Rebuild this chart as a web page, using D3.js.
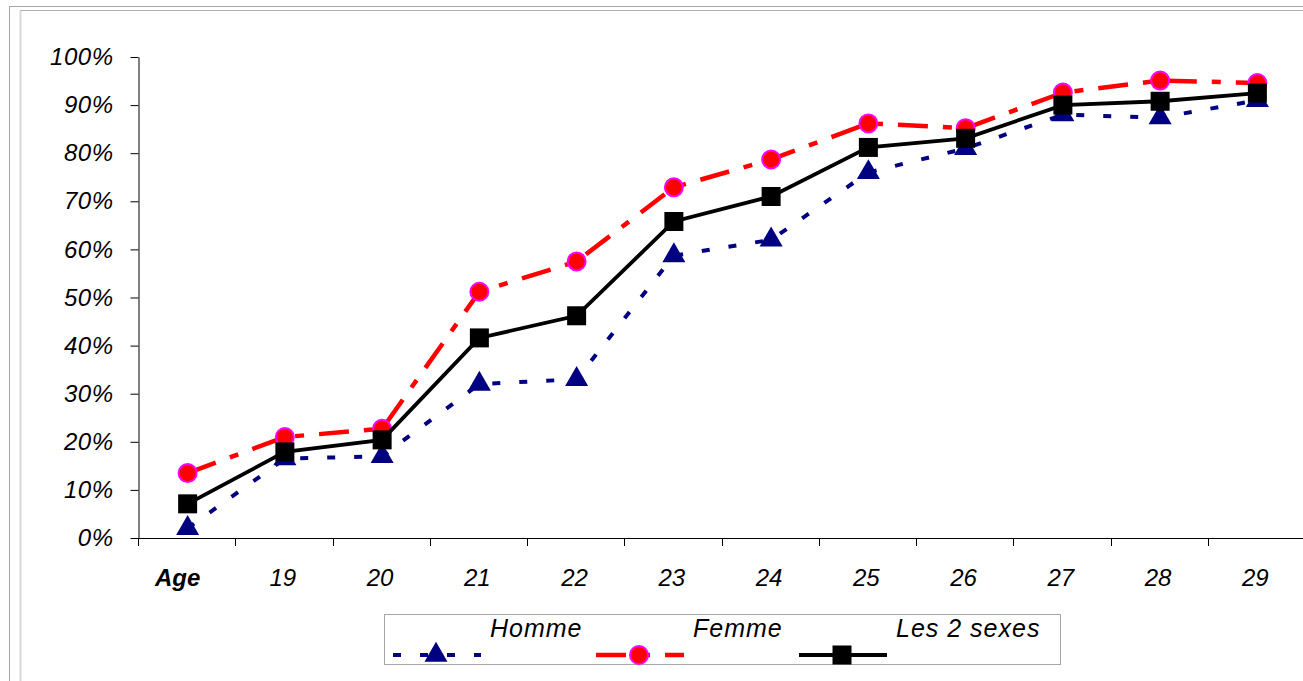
<!DOCTYPE html>
<html>
<head>
<meta charset="utf-8">
<script src="https://cdn.jsdelivr.net/npm/d3@7"></script>
<style>
    body { margin: 0; background: #fff; }
    svg { display: block; font-family: 'Liberation Sans', Arial, sans-serif; font-style: italic; }
    .axis text { font-size: 24px; fill: #000; }
    .axis path, .axis line { stroke: #000; }
</style>
</head>
<body>
<script>
    const categories = ['Age', '19', '20', '21', '22', '23', '24', '25', '26', '27', '28', '29'];
    const homme = [2, 16.5, 17, 32, 33, 58.7, 62, 76, 81, 88, 87.4, 91];
    const femme = [13.5, 21, 22.7, 51.2, 57.5, 72.9, 78.7, 86.2, 85.2, 92.6, 95.1, 94.6];
    const lesDeux = [7.1, 17.9, 20.4, 41.6, 46.2, 65.8, 71, 81.2, 83.1, 90, 90.8, 92.5];
    const yTicks = [0, 10, 20, 30, 40, 50, 60, 70, 80, 90, 100];

    const width = 1303, height = 681;

    const svg = d3.select('body').append('svg')
        .attr('width', width)
        .attr('height', height);

    // chart frame (two thin grey borders, cut by the window)
    svg.append('rect')
        .attr('x', 9.5).attr('y', 6.5)
        .attr('width', 1310).attr('height', 700)
        .attr('fill', 'none').attr('stroke', '#a6a6a6');
    svg.append('path')
        .attr('d', 'M20.5,700V10.5H1310')
        .attr('fill', 'none').attr('stroke', '#b0b0b0');
    svg.append('line')
        .attr('x1', 20.5).attr('x2', 20.5).attr('y1', 11).attr('y2', 700)
        .attr('stroke', '#d8d8d8').attr('stroke-width', 2);

    const x = d3.scaleBand().domain(categories).range([139, 1306]);
    const y = d3.scaleLinear().domain([0, 100]).range([538, 57]);
    const cx = c => x(c) + x.bandwidth() / 2;

    // y axis
    const yAxis = d3.axisLeft(y)
        .tickValues(yTicks)
        .tickFormat(d => d + '%')
        .tickSize(8)
        .tickSizeOuter(0)
        .tickPadding(17);

    svg.append('g')
        .attr('class', 'axis y')
        .attr('transform', 'translate(138.5,0)')
        .call(yAxis)
        .selectAll('text')
        .style('letter-spacing', '0.5px');

    // x axis: line, ticks on band edges, labels at band centres
    const xg = svg.append('g').attr('class', 'axis x');
    xg.append('line')
        .attr('x1', 138).attr('x2', 1305)
        .attr('y1', 538.5).attr('y2', 538.5)
        .attr('stroke', '#000');
    xg.selectAll('.tick')
        .data(categories)
        .enter().append('line')
        .attr('class', 'tick')
        .attr('x1', d => Math.round(x(d)) - 0.5)
        .attr('x2', d => Math.round(x(d)) - 0.5)
        .attr('y1', 538).attr('y2', 546)
        .attr('stroke', '#000');
    xg.selectAll('.label')
        .data(categories)
        .enter().append('text')
        .attr('class', 'label')
        .attr('x', d => cx(d) + (d === 'Age' ? -10 : -2))
        .attr('y', 586)
        .attr('text-anchor', 'middle')
        .style('font-weight', d => d === 'Age' ? 'bold' : 'normal')
        .text(d => d);

    const line = d3.line()
        .x((d, i) => cx(categories[i]))
        .y(d => y(d));

    const triangle = d3.symbol(d3.symbolTriangle, 230);
    const square = d3.symbol(d3.symbolSquare, 361);

    const series = [
        {name: 'Homme', values: homme, stroke: '#000080', width: 4, dash: '8,19',
            marker: g => g.append('path').attr('d', triangle).attr('fill', '#000080')},
        {name: 'Femme', values: femme, stroke: '#ff0000', width: 4.5, dash: '30,15,9,15',
            marker: g => g.append('circle').attr('r', 9).attr('fill', '#ff0000')
                .attr('stroke', '#ff00ff').attr('stroke-width', 2)},
        {name: 'Les 2 sexes', values: lesDeux, stroke: '#000', width: 3.8, dash: null,
            marker: g => g.append('path').attr('d', square).attr('fill', '#000')}
    ];

    series.forEach(s => {
        svg.append('path')
            .datum(s.values)
            .attr('fill', 'none')
            .attr('stroke', s.stroke)
            .attr('stroke-width', s.width)
            .attr('stroke-dasharray', s.dash)
            .attr('d', line);

        svg.append('g').selectAll('g')
            .data(s.values)
            .enter().append('g')
            .attr('transform', (d, i) => `translate(${cx(categories[i])},${y(d)})`)
            .each(function () { s.marker(d3.select(this)); });
    });

    // legend
    const legend = svg.append('g').attr('class', 'legend');
    legend.append('rect')
        .attr('x', 384.5).attr('y', 614.5)
        .attr('width', 676).attr('height', 50)
        .attr('fill', '#fff').attr('stroke', '#a6a6a6');

    const legendX = [436, 639, 842];
    series.forEach((s, i) => {
        const lx = legendX[i];
        const item = legend.append('g').attr('transform', `translate(${lx},0)`);
        item.append('line')
            .attr('x1', -43).attr('x2', 45)
            .attr('y1', 655).attr('y2', 655)
            .attr('stroke', s.stroke)
            .attr('stroke-width', s.width)
            .attr('stroke-dasharray', s.dash);
        s.marker(item.append('g').attr('transform', 'translate(0,655)'));
        item.append('text')
            .attr('x', 54).attr('y', 637)
            .style('font-size', '25px')
            .style('letter-spacing', '1px')
            .text(s.name);
    });
</script>
</body>
</html>
